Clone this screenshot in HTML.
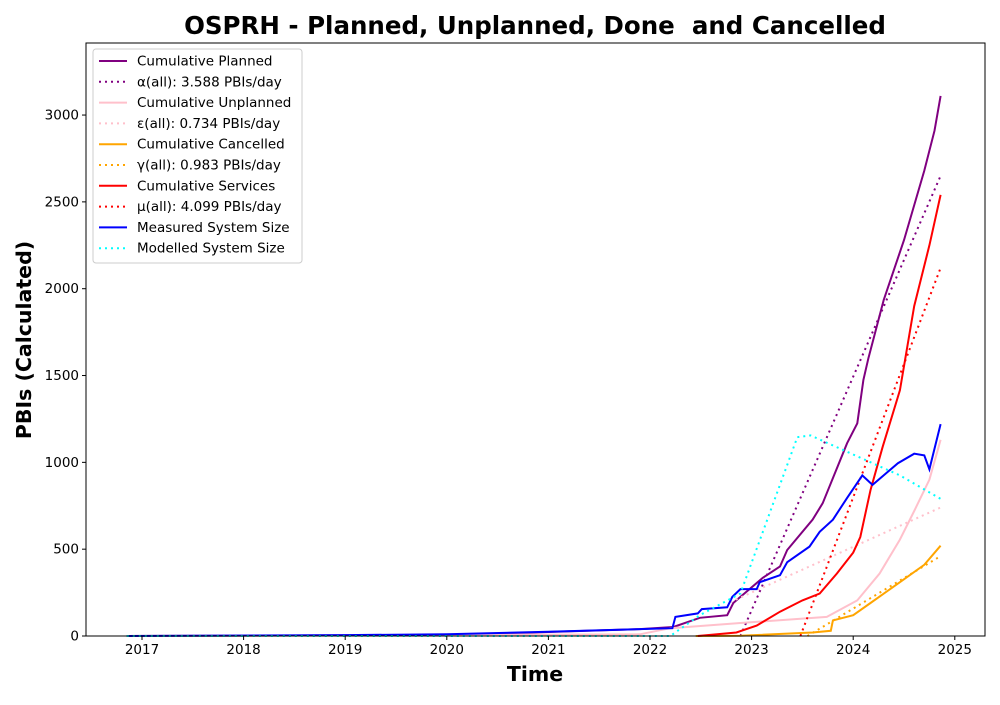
<!DOCTYPE html>
<html><head><meta charset="utf-8"><style>
body{margin:0;background:#fff;font-family:"Liberation Sans","DejaVu Sans",sans-serif}
svg text{font-family:"DejaVu Sans","Liberation Sans",sans-serif;white-space:pre}
</style></head><body>
<svg id="chart" width="1000" height="700" xmlns="http://www.w3.org/2000/svg"></svg>
<script>
const xTicks=[2017,2018,2019,2020,2021,2022,2023,2024,2025];
const yTicks=[0,500,1000,1500,2000,2500,3000];
const plannedX=[2016.85,2020,2021.9,2022.23,2022.49,2022.76,2022.82,2022.89,2023.11,2023.28,2023.35,2023.6,2023.7,2023.94,2024.04,2024.1,2024.15,2024.3,2024.5,2024.7,2024.8,2024.86];
const plannedY=[0,5,40,52,105,120,190,225,335,400,495,670,765,1110,1225,1475,1600,1935,2280,2680,2910,3110];
const unplannedX=[2016.85,2021.9,2022.2,2022.89,2023.74,2024.04,2024.26,2024.46,2024.6,2024.75,2024.86];
const unplannedY=[0,10,45,75,110,205,360,555,720,900,1130];
const cancelledX=[2022.45,2022.89,2023.6,2023.78,2023.8,2024,2024.17,2024.46,2024.7,2024.86];
const cancelledY=[0,2,20,30,90,120,190,310,410,520];
const servicesX=[2022.47,2022.85,2023.05,2023.28,2023.5,2023.67,2023.84,2024,2024.07,2024.17,2024.29,2024.46,2024.6,2024.75,2024.86];
const servicesY=[0,20,60,140,205,245,360,480,570,840,1090,1415,1900,2250,2540];
const measuredX=[2016.85,2019,2020,2021,2021.9,2022.22,2022.25,2022.47,2022.51,2022.76,2022.81,2022.89,2023.05,2023.08,2023.28,2023.35,2023.57,2023.67,2023.8,2023.94,2024.09,2024.19,2024.33,2024.44,2024.6,2024.7,2024.75,2024.86];
const measuredY=[0,5,10,25,40,45,110,130,155,165,225,270,270,310,350,425,515,600,670,795,925,870,940,995,1050,1040,960,1220];
const modelX=[2016.85,2022.2,2022.49,2022.89,2023.45,2023.58,2024.46,2024.86];
const modelY=[0,0,120,245,1145,1155,925,790];
const alphaX=[2022.89,2024.86],alphaY=[0,2650];
const epsX=[2022.79,2024.86],epsY=[195,740];
const gammaX=[2023.55,2024.86],gammaY=[0,460];
const muX=[2023.48,2024.86],muY=[0,2120];

const L=86,R=985,T=43,B=636;
const sx=v=>142+(v-2017)*101.6;
const sy=v=>636-v*0.17365;
const svg=document.getElementById('chart');
const NS='http://www.w3.org/2000/svg';
function el(t,a,txt){const e=document.createElementNS(NS,t);for(const k in a)e.setAttribute(k,a[k]);if(txt!==undefined)e.textContent=txt;svg.appendChild(e);return e;}
const series=[
 [plannedX,plannedY,'purple',null,'planned-line'],
 [alphaX,alphaY,'purple','2,4','alpha-fit-line'],
 [unplannedX,unplannedY,'pink',null,'unplanned-line'],
 [epsX,epsY,'pink','2,4','epsilon-fit-line'],
 [cancelledX,cancelledY,'orange',null,'cancelled-line'],
 [gammaX,gammaY,'orange','2,4','gamma-fit-line'],
 [servicesX,servicesY,'red',null,'services-line'],
 [muX,muY,'red','2,4','mu-fit-line'],
 [measuredX,measuredY,'blue',null,'measured-size-line'],
 [modelX,modelY,'cyan','2,4','modelled-size-line']];
for(const s of series){
 const d=s[0].map((x,i)=>(i?'L':'M')+sx(x).toFixed(1)+','+sy(s[1][i]).toFixed(1)).join('');
 const p=el('path',{d:d,fill:'none',stroke:s[2],'stroke-width':2});
 if(s[3])p.setAttribute('stroke-dasharray',s[3]);
 
 
}
const frame=el('rect',{x:L,y:T,width:R-L,height:B-T,fill:'none',stroke:'#000','stroke-width':1});


for(const t of xTicks){
 el('line',{x1:sx(t),x2:sx(t),y1:B,y2:B+4,stroke:'#000'});
 const tx=el('text',{x:sx(t),y:B+18,'font-size':13.5,'text-anchor':'middle'},t);
 
 
}
for(const t of yTicks){
 el('line',{x1:L-4,x2:L,y1:sy(t),y2:sy(t),stroke:'#000'});
 const tx=el('text',{x:L-7,y:sy(t)+4.5,'font-size':13.5,'text-anchor':'end'},t);
 
 
}
const ti=el('text',{x:535,y:34,'font-size':24.5,'font-weight':'bold','text-anchor':'middle'},'OSPRH - Planned, Unplanned, Done  and Cancelled');


const xl=el('text',{x:535,y:681,'font-size':20.5,'font-weight':'bold','text-anchor':'middle'},'Time');


const yl=el('text',{x:0,y:0,'font-size':20.5,'font-weight':'bold','text-anchor':'middle',transform:'translate(31,340) rotate(-90)'},'PBIs (Calculated)');


const lg=el('rect',{x:93,y:49,width:209,height:214,rx:3,fill:'#fff',stroke:'#ccc'});


const items=[['Cumulative Planned','purple',null],['α(all): 3.588 PBIs/day','purple','2,4'],['Cumulative Unplanned','pink',null],['ε(all): 0.734 PBIs/day','pink','2,4'],['Cumulative Cancelled','orange',null],['γ(all): 0.983 PBIs/day','orange','2,4'],['Cumulative Services','red',null],['μ(all): 4.099 PBIs/day','red','2,4'],['Measured System Size','blue',null],['Modelled System Size','cyan','2,4']];
items.forEach((it,i)=>{
 const y=61+i*20.8;
 const ln=el('line',{x1:99,x2:127,y1:y,y2:y,stroke:it[1],'stroke-width':2});
 if(it[2])ln.setAttribute('stroke-dasharray',it[2]);
 const tx=el('text',{x:137,y:y+4.5,'font-size':13.5,textLength:0},it[0]);
 tx.removeAttribute('textLength');
 
 
});
</script>
</body></html>
